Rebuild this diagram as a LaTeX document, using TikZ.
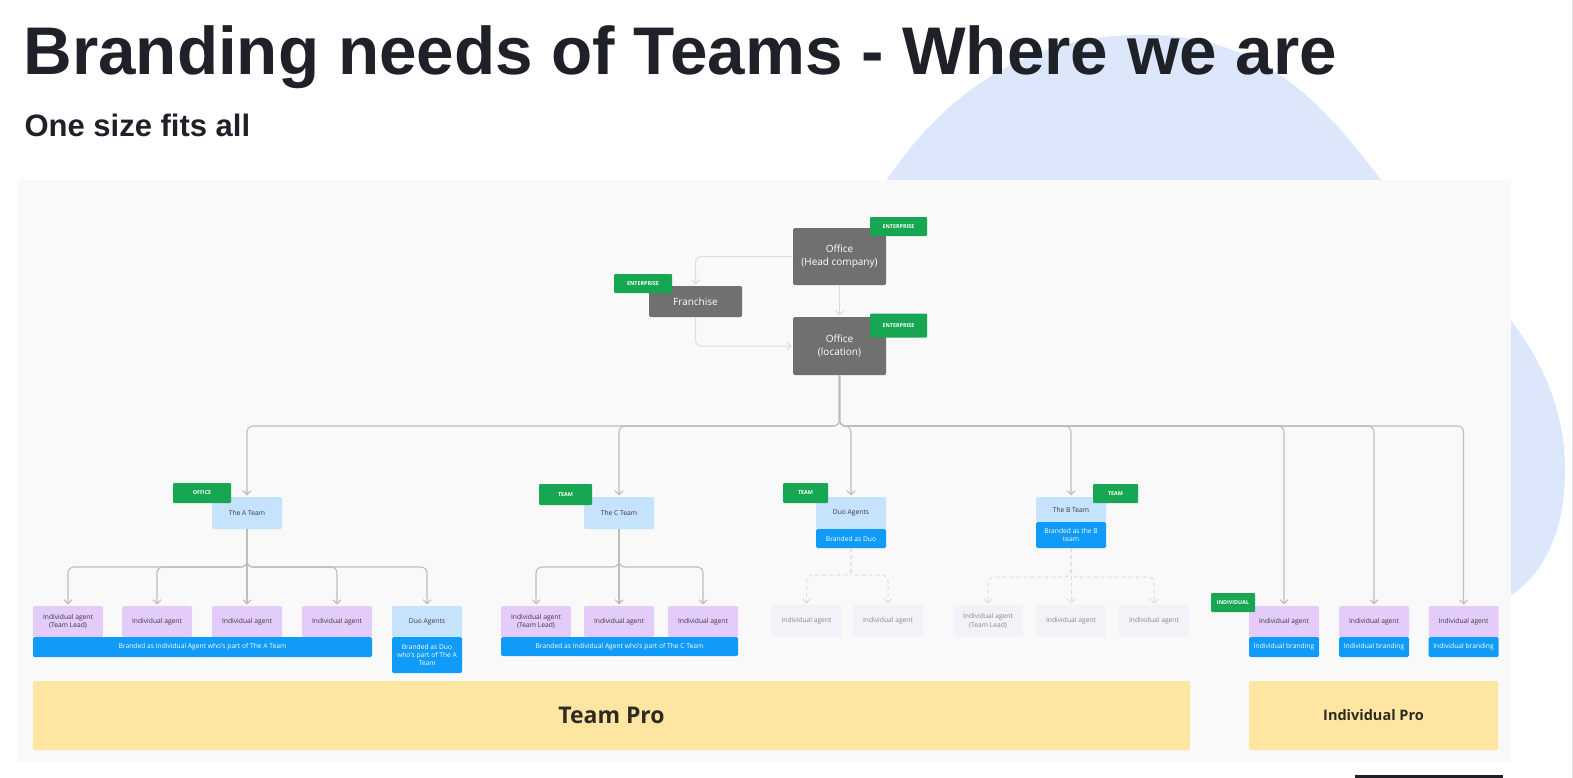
\documentclass[tikz,border=0pt]{standalone}
\usepackage{fontspec}
\setmainfont{Liberation Sans}
\newfontfamily\diafont{Open Sans}
\usepackage{tikz}
\usetikzlibrary{arrows.meta,positioning}
\definecolor{titleink}{HTML}{1F2129}
\definecolor{blobblue}{HTML}{DCE7FB}
\definecolor{panelgray}{HTML}{F9F9F9}
\definecolor{edgegray}{HTML}{E2E2E2}
\definecolor{officegray}{HTML}{707070}
\definecolor{taggreen}{HTML}{17A652}
\definecolor{teamblue}{HTML}{C5E3FC}
\definecolor{brandblue}{HTML}{0F9BF7}
\definecolor{agentlilac}{HTML}{E4CCFA}
\definecolor{fadedlilac}{HTML}{F4F2F8}
\definecolor{fadedink}{HTML}{8A8790}
\definecolor{boxink}{HTML}{3A3645}
\definecolor{linegray}{HTML}{BDBDBD}
\definecolor{softgray}{HTML}{DDDDDD}
\definecolor{proyellow}{HTML}{FEE6A2}
\definecolor{proink}{HTML}{2E2A22}
\newcommand\agentsize{\fontsize{6.7}{8.4}\selectfont}
\tikzset{every node/.append style={font=\diafont}}

\begin{document}
\begin{tikzpicture}[x=1pt,y=-1pt,>={Straight Barb[length=4pt,width=8pt]},
  box/.style={rectangle,rounded corners=1.5pt,inner sep=0pt,outer sep=0pt,align=center},
  office/.style={box,fill=officegray,text=white,minimum width=93pt,
    font=\diafont\fontsize{10}{13}\selectfont},
  tag/.style={box,rounded corners=1pt,fill=taggreen,text=white,
    font=\diafont\bfseries\fontsize{5.4}{6}\selectfont},
  team/.style={box,fill=teamblue,text=boxink,minimum width=70pt,font=\diafont\agentsize},
  agent/.style={box,fill=agentlilac,text=boxink,minimum width=70pt,minimum height=31pt,
    font=\diafont\agentsize},
  faded/.style={box,fill=fadedlilac,text=fadedink,minimum width=70pt,minimum height=32pt,
    font=\diafont\agentsize},
  brand/.style={box,fill=brandblue,text=white,font=\diafont\agentsize},
  pro/.style={box,fill=proyellow,text=proink,minimum height=69pt},
  conn/.style={draw=linegray,line width=1.1pt,->,rounded corners=6pt,shorten >=1.5pt},
  softconn/.style={draw=softgray,line width=1pt,->,rounded corners=6pt,shorten >=1.5pt},
  dashconn/.style={softconn,dash pattern=on 4pt off 3pt}]
  \useasboundingbox (0,0) rectangle (1573,778);
  \fill[white] (0,0) rectangle (1573,778);
  \fill[blobblue] (880,190) .. controls (925,120) and (1000,40) .. (1130,35)
    .. controls (1260,30) and (1320,100) .. (1385,185)
    .. controls (1440,255) and (1565,330) .. (1565,470)
    .. controls (1565,545) and (1535,585) .. (1495,605) -- (880,605) -- cycle;
  \draw[edgegray] (1572,0) -- (1572,778);
  \fill[titleink] (1355,774.5) rectangle (1503,778);
  \node[anchor=base west,text=titleink,font=\bfseries\fontsize{67.4}{80}\selectfont]
    (title) at (20,75) {Branding needs of Teams - Where we are};
  \node[anchor=base west,text=titleink,font=\bfseries\fontsize{31}{37}\selectfont]
    (subtitle) at (21,137) {One size fits all};
  \fill[panelgray] (18,180) rectangle (1511,762);

  \node[office,minimum height=57pt] (hq) at (839.5,256.5) {Office\\(Head company)};
  \node[office,minimum height=31pt] (franchise) at (695.5,301.5) {Franchise};
  \node[office,minimum height=58pt] (loc) at (839.5,346) {Office\\(location)};
  \node[tag,minimum width=57pt,minimum height=19pt] (hqtag) at (898.5,226.5) {ENTERPRISE};
  \node[tag,minimum width=58pt,minimum height=19pt] (frtag) at (643,283.5) {ENTERPRISE};
  \node[tag,minimum width=57pt,minimum height=24pt] (loctag) at (898.5,325.5) {ENTERPRISE};

  \node[team,minimum height=32pt] (ateam) at (247,513) {The A Team};
  \node[team,minimum height=32pt] (cteam) at (619,513) {The C Team};
  \node[team,minimum height=32pt] (duo) at (851,513) {Duo Agents};
  \node[brand,minimum width=70pt,minimum height=19pt,below=0pt of duo] (duobrand) {Branded as Duo};
  \node[team,minimum height=25pt] (bteam) at (1071,509.5) {The B Team};
  \node[brand,minimum width=70pt,minimum height=26pt,below=0pt of bteam] (bbrand) {Branded as the B\\team};
  \node[tag,minimum width=58pt,minimum height=20pt] (atag) at (202,493) {OFFICE};
  \node[tag,minimum width=53pt,minimum height=21pt] (ctag) at (565.5,494.5) {TEAM};
  \node[tag,minimum width=45pt,minimum height=20pt] (duotag) at (805.5,493) {TEAM};
  \node[tag,minimum width=45pt,minimum height=19pt] (btag) at (1115.5,493.5) {TEAM};

  \node[agent] (a1) at (68,621.5) {Individual agent\\(Team Lead)};
  \foreach \n/\x in {2/157,3/247,4/337}
    \node[agent] (a\n) at (\x,621.5) {Individual agent};
  \node[team,minimum height=31pt] (aduo) at (427,621.5) {Duo Agents};
  \node[brand,minimum width=339pt,minimum height=20pt,anchor=north west] (abar) at (a1.south west)
    {Branded as Individual Agent who's part of The A Team};
  \node[brand,minimum width=70pt,minimum height=36pt,below=0pt of aduo] (aduobrand)
    {Branded as Duo\\who's part of The A\\Team};

  \node[agent] (c1) at (536,621.5) {Individual agent\\(Team Lead)};
  \foreach \n/\x in {2/619,3/703}
    \node[agent] (c\n) at (\x,621.5) {Individual agent};
  \node[brand,minimum width=237pt,minimum height=19pt,anchor=north west] (cbar) at (c1.south west)
    {Branded as Individual Agent who's part of The C Team};

  \node[faded] (d1) at (806.5,621) {Individual agent};
  \node[faded] (d2) at (888,621) {Individual agent};

  \node[faded] (b1) at (988,621) {Individual agent\\(Team Lead)};
  \node[faded] (b2) at (1071,621) {Individual agent};
  \node[faded] (b3) at (1154,621) {Individual agent};

  \foreach \n/\x in {1/1284,2/1374,3/1463.5}{
    \node[agent] (i\n) at (\x,621.5) {Individual agent};
    \node[brand,minimum width=70pt,minimum height=20pt,below=0pt of i\n] (ib\n) {Individual branding};
  }
  \node[tag,minimum width=44pt,minimum height=19pt] (itag) at (1233,602.5) {INDIVIDUAL};

  \node[pro,minimum width=1157pt,font=\diafont\bfseries\fontsize{23}{28}\selectfont]
    (teampro) at (611.5,715.5) {Team Pro};
  \node[pro,minimum width=249pt,font=\diafont\bfseries\fontsize{14.5}{18}\selectfont]
    (indpro) at (1373.5,715.5) {Individual Pro};

  \draw[softconn] (hq.west) -| (franchise.north);
  \draw[softconn] (hq.south) -- (loc.north);
  \draw[softconn] (franchise.south) |- (loc.west);

  \coordinate (bus) at (839.5,426);
  \foreach \t in {ateam,cteam,duo,bteam,i1,i2,i3}
    \draw[conn] (loc.south) -- (bus) -| (\t.north);

  \coordinate (abus) at (247,567);
  \foreach \t in {a1,a2,a4,aduo}
    \draw[conn] (ateam.south) -- (abus) -| (\t.north);
  \draw[conn] (ateam.south) -- (a3.north);

  \coordinate (cbus) at (619,567);
  \foreach \t in {c1,c3}
    \draw[conn] (cteam.south) -- (cbus) -| (\t.north);
  \draw[conn] (cteam.south) -- (c2.north);

  \coordinate (dbus) at (851,575);
  \foreach \t in {d1,d2}
    \draw[dashconn] (duobrand.south) -- (dbus) -| (\t.north);

  \coordinate (bbus) at (1071,577);
  \foreach \t in {b1,b3}
    \draw[dashconn] (bbrand.south) -- (bbus) -| (\t.north);
  \draw[dashconn] (bbrand.south) -- (b2.north);
\end{tikzpicture}
\end{document}
